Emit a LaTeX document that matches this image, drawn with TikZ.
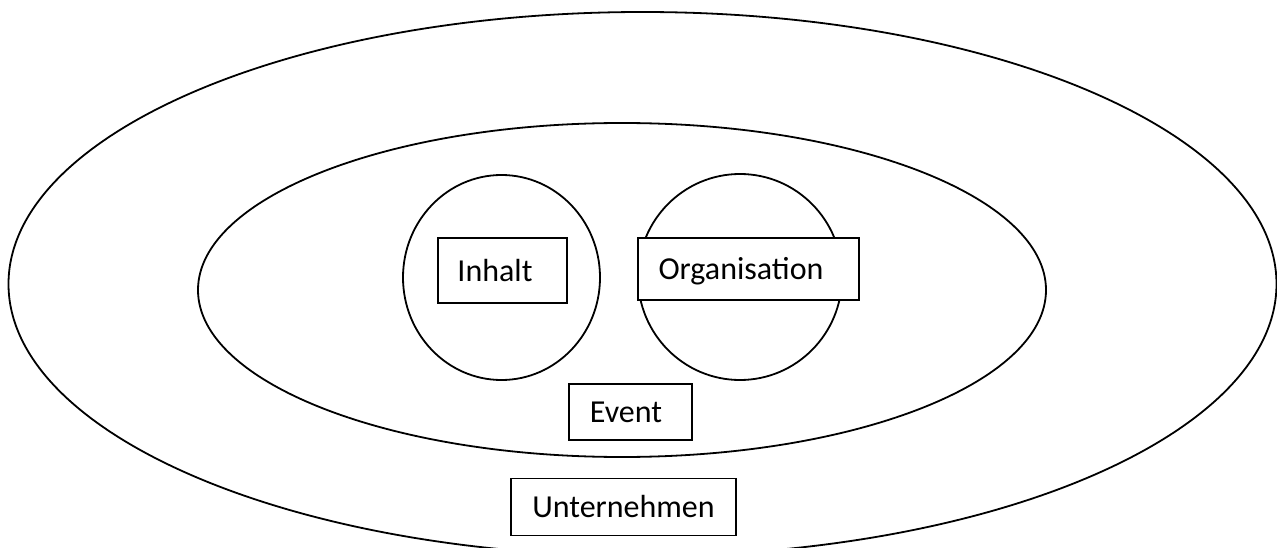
\documentclass[tikz,border=0pt]{standalone}
\usepackage{fontspec}
\setmainfont{Carlito}
\begin{document}
\begin{tikzpicture}[x=1pt,y=-1pt,
  ring/.style={draw=black, line width=1.8pt},
  tag/.style={draw=black, fill=white, line width=1.8pt,
    font=\fontsize{32}{38}\selectfont,
    text height=21pt, text depth=0pt, inner sep=0pt}]
% page frame
\useasboundingbox (0,0) rectangle (1277,548);
\clip (0,0) rectangle (1277,548);
\fill[white] (0,0) rectangle (1277,548);

% nested areas
\draw[ring] (642.5,284) ellipse [x radius=634, y radius=272];
\draw[ring] (622,290) ellipse [x radius=424, y radius=167];
\draw[ring] (501.5,277.5) ellipse [x radius=98.5, y radius=102.5];
\draw[ring] (740,277) ellipse [x radius=102, y radius=103];

% labels (a blank strut after the word moves it left of the box centre)
\node[tag, minimum width=129pt, minimum height=65pt] (inhalt) at (502.5,270.5) {Inhalt\rule{15pt}{0pt}};
\node[tag, minimum width=221pt, minimum height=62pt] (organisation) at (748.5,269) {Organisation\rule{15pt}{0pt}};
\node[tag, minimum width=123pt, minimum height=56pt] (event) at (630.5,412) {Event\rule{9pt}{0pt}};
\node[tag, minimum width=225pt, minimum height=57pt] (unternehmen) at (623.5,507) {Unternehmen};
\end{tikzpicture}
\end{document}
